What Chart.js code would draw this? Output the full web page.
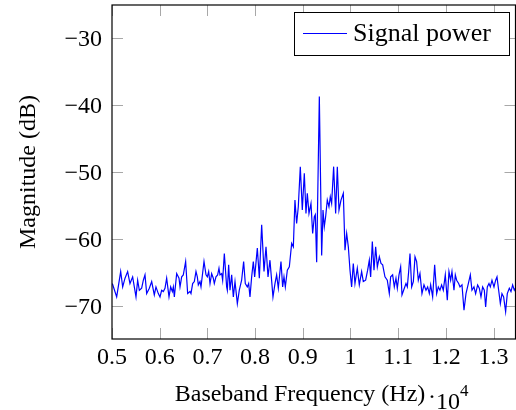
<!DOCTYPE html>
<html>
<head>
<meta charset="utf-8">
<script src="https://cdn.jsdelivr.net/npm/chart.js@4/dist/chart.umd.min.js"></script>
<style>
  html, body { margin: 0; padding: 0; background: #ffffff; }
  canvas { display: block; }
</style>
</head>
<body>
<canvas id="c" width="516" height="410"></canvas>
<script>
// Baseband frequency in units of 10^4 Hz
const freq = [
  0.5007,0.5098,0.5182,0.5224,0.5273,0.5328,0.5377,0.5433,0.5468,0.5503,
  0.5538,0.5573,0.5622,0.5657,0.5692,0.5727,0.5783,0.5832,0.5887,0.5922,
  0.5971,0.6006,0.6041,0.6076,0.6111,0.6146,0.6195,0.6230,0.6265,0.6286,
  0.6307,0.6356,0.6405,0.6426,0.6461,0.6495,0.6544,0.6586,0.6635,0.6656,
  0.6691,0.6726,0.6761,0.6789,0.6810,0.6845,0.6866,0.6929,0.6971,0.6999,
  0.7027,0.7055,0.7089,0.7124,0.7145,0.7180,0.7215,0.7243,0.7264,0.7299,
  0.7320,0.7355,0.7404,0.7418,0.7446,0.7474,0.7509,0.7544,0.7579,0.7628,
  0.7669,0.7718,0.7760,0.7795,0.7837,0.7865,0.7893,0.7928,0.7963,0.7991,
  0.8047,0.8089,0.8138,0.8187,0.8229,0.8271,0.8312,0.8375,0.8417,0.8452,
  0.8487,0.8543,0.8578,0.8606,0.8634,0.8676,0.8718,0.8767,0.8802,0.8836,
  0.8871,0.8906,0.8948,0.8990,0.9032,0.9067,0.9095,0.9130,0.9172,0.9207,
  0.9242,0.9263,0.9291,0.9347,0.9396,0.9424,0.9451,0.9479,0.9514,0.9549,
  0.9577,0.9605,0.9647,0.9689,0.9724,0.9759,0.9801,0.9850,0.9885,0.9920,
  0.9955,0.9990,1.0024,1.0059,1.0094,1.0143,1.0185,1.0234,1.0269,1.0318,
  1.0360,1.0395,1.0423,1.0458,1.0493,1.0528,1.0563,1.0605,1.0640,1.0675,
  1.0723,1.0772,1.0814,1.0842,1.0884,1.0919,1.0954,1.0982,1.1017,1.1052,
  1.1080,1.1129,1.1164,1.1192,1.1220,1.1248,1.1283,1.1318,1.1353,1.1387,
  1.1422,1.1457,1.1499,1.1541,1.1583,1.1618,1.1653,1.1681,1.1723,1.1765,
  1.1807,1.1842,1.1876,1.1911,1.1946,1.1988,1.2030,1.2065,1.2100,1.2128,
  1.2170,1.2198,1.2226,1.2268,1.2296,1.2338,1.2380,1.2422,1.2471,1.2513,
  1.2547,1.2589,1.2624,1.2666,1.2701,1.2736,1.2771,1.2806,1.2834,1.2869,
  1.2904,1.2932,1.2967,1.3009,1.3044,1.3072,1.3107,1.3142,1.3176,1.3211,
  1.3253,1.3288,1.3330,1.3365,1.3400,1.3435,1.3470
];
// Signal power in dB
const power = [
  -66.7,-68.7,-64.9,-67.2,-65.9,-64.9,-66.7,-65.7,-67.2,-68.7,
  -66.2,-67.7,-67.4,-66.2,-65.4,-68.2,-67.4,-66.4,-68.4,-67.2,
  -68.2,-68.7,-67.7,-67.9,-67.4,-65.9,-68.7,-67.2,-67.9,-67.2,
  -68.7,-65.2,-65.9,-67.2,-65.7,-65.4,-63.4,-68.2,-67.9,-68.2,
  -66.7,-66.4,-64.9,-65.7,-66.9,-66.4,-67.2,-63.4,-65.4,-65.7,
  -64.9,-66.7,-65.2,-65.9,-66.7,-65.7,-65.4,-64.4,-65.4,-65.2,
  -66.2,-62.2,-67.2,-67.7,-63.9,-67.7,-65.4,-68.7,-66.4,-69.7,
  -67.7,-66.2,-63.4,-66.7,-67.2,-66.7,-68.7,-65.7,-63.4,-65.7,
  -61.4,-65.9,-57.9,-64.9,-61.2,-65.7,-63.2,-68.7,-66.7,-65.4,
  -67.4,-63.4,-67.2,-65.7,-67.2,-64.7,-64.2,-60.7,-61.2,-54.2,
  -57.7,-55.2,-49.2,-55.7,-50.2,-56.2,-53.2,-56.2,-54.7,-59.2,
  -56.7,-56.4,-63.5,-38.7,-62.5,-55.7,-58.2,-56.7,-54.2,-55.2,
  -53.7,-54.7,-49.2,-56.2,-49.2,-55.7,-54.2,-53.2,-61.7,-59.2,
  -61.2,-64.7,-67.2,-63.7,-66.7,-64.4,-66.9,-64.9,-66.4,-66.2,
  -64.7,-63.2,-65.7,-60.4,-64.7,-61.2,-64.2,-62.7,-63.7,-63.9,
  -65.7,-66.2,-68.2,-65.7,-65.4,-67.2,-65.9,-67.4,-65.4,-64.2,
  -68.4,-67.4,-66.7,-67.2,-64.9,-62.2,-67.2,-66.4,-62.7,-63.4,
  -66.2,-65.2,-68.2,-66.9,-67.7,-67.2,-68.2,-66.9,-68.7,-63.9,
  -68.2,-67.2,-67.7,-66.9,-67.7,-65.4,-69.2,-64.9,-66.2,-64.9,
  -67.7,-65.4,-66.2,-66.7,-67.2,-66.9,-70.7,-68.2,-66.7,-65.4,
  -67.7,-67.2,-68.2,-66.9,-67.4,-68.7,-67.2,-67.7,-70.2,-67.2,
  -66.7,-67.2,-66.2,-67.2,-66.2,-65.7,-67.7,-69.7,-68.2,-68.7,
  -70.9,-68.2,-67.4,-67.9,-66.9,-67.7,-67.2
];
const xTickValues = [0.5, 0.6, 0.7, 0.8, 0.9, 1.0, 1.1, 1.2, 1.3];
const xTickLabels = ["0.5", "0.6", "0.7", "0.8", "0.9", "1", "1.1", "1.2", "1.3"];
const yTickValues = [-70, -60, -50, -40, -30];
const yTickLabels = ["\u221270", "\u221260", "\u221250", "\u221240", "\u221230"];
const seriesLabel = "Signal power";
const xTitle = "Baseband Frequency (Hz)";
const yTitle = "Magnitude (dB)";

const SERIF = "'Liberation Serif', 'DejaVu Serif', serif";

const decor = {
  id: 'decor',
  beforeDatasetsDraw(chart) {
    const ctx = chart.ctx, a = chart.chartArea;
    const xs = chart.scales.x, ys = chart.scales.y;
    const L = 11;
    ctx.save();
    ctx.strokeStyle = '#a8a8a8';
    ctx.lineWidth = 1;
    ctx.beginPath();
    xTickValues.forEach(v => {
      const px = Math.round(xs.getPixelForValue(v)) + 0.5;
      ctx.moveTo(px, a.bottom); ctx.lineTo(px, a.bottom - L);
      ctx.moveTo(px, a.top); ctx.lineTo(px, a.top + L);
    });
    yTickValues.forEach(v => {
      const py = Math.round(ys.getPixelForValue(v)) + 0.5;
      ctx.moveTo(a.left, py); ctx.lineTo(a.left + L, py);
      ctx.moveTo(a.right, py); ctx.lineTo(a.right - L, py);
    });
    ctx.stroke();
    ctx.restore();
  },
  afterDraw(chart) {
    const ctx = chart.ctx, a = chart.chartArea;
    const xs = chart.scales.x, ys = chart.scales.y;
    ctx.save();
    // axis box
    ctx.strokeStyle = '#000';
    ctx.lineWidth = 1.2;
    ctx.strokeRect(a.left, a.top, a.right - a.left, a.bottom - a.top);

    ctx.fillStyle = '#000';
    // x tick labels
    ctx.font = '24px ' + SERIF;
    ctx.textAlign = 'center';
    ctx.textBaseline = 'alphabetic';
    xTickValues.forEach((v, i) => {
      ctx.fillText(xTickLabels[i], xs.getPixelForValue(v), a.bottom + 25);
    });
    // y tick labels
    ctx.textAlign = 'right';
    yTickValues.forEach((v, i) => {
      ctx.fillText(yTickLabels[i], a.left - 10, ys.getPixelForValue(v) + 8);
    });
    // x title
    ctx.textAlign = 'center';
    ctx.fillText(xTitle, 300, 401);
    // scale factor
    ctx.textAlign = 'center';
    ctx.fillText('\u00b7', 432, 404);
    ctx.textAlign = 'left';
    ctx.fillText('10', 436, 409);
    ctx.font = '17px ' + SERIF;
    ctx.fillText('4', 460, 396);
    // y title
    ctx.font = '24px ' + SERIF;
    ctx.save();
    ctx.translate(29, (a.top + a.bottom) / 2);
    ctx.rotate(-Math.PI / 2);
    ctx.textAlign = 'center';
    ctx.textBaseline = 'middle';
    ctx.fillText(yTitle, 0, 0);
    ctx.restore();

    // legend
    const lx = 294.5, ly = 12.5, lw = 215, lh = 43;
    ctx.fillStyle = '#fff';
    ctx.fillRect(lx, ly, lw, lh);
    ctx.strokeStyle = '#000';
    ctx.lineWidth = 1;
    ctx.strokeRect(lx, ly, lw, lh);
    ctx.strokeStyle = '#0000ff';
    ctx.lineWidth = 1.2;
    ctx.beginPath();
    ctx.moveTo(303, 33.5); ctx.lineTo(347, 33.5);
    ctx.stroke();
    ctx.fillStyle = '#000';
    ctx.font = '26px ' + SERIF;
    ctx.textAlign = 'left';
    ctx.textBaseline = 'alphabetic';
    ctx.fillText(seriesLabel, 353, 41);
    ctx.restore();
  }
};

new Chart(document.getElementById('c'), {
  type: 'line',
  data: {
    datasets: [{
      label: seriesLabel,
      data: freq.map((f, i) => ({ x: f, y: power[i] })),
      borderColor: '#0000ff',
      backgroundColor: '#0000ff',
      borderWidth: 1.2,
      pointRadius: 0,
      tension: 0,
      fill: false
    }]
  },
  options: {
    responsive: false,
    devicePixelRatio: 1,
    animation: false,
    layout: { padding: { top: 5, right: 0.5, left: 0, bottom: 0 } },
    plugins: { legend: { display: false }, tooltip: { enabled: false } },
    scales: {
      x: {
        type: 'linear', min: 0.5, max: 1.346,
        grid: { display: false }, border: { display: false },
        ticks: { display: false },
        afterBuildTicks: s => { s.ticks = xTickValues.map(v => ({ value: v })); },
        afterFit: s => { s.height = 71; }
      },
      y: {
        type: 'linear', min: -75, max: -25,
        grid: { display: false }, border: { display: false },
        ticks: { display: false },
        afterBuildTicks: s => { s.ticks = yTickValues.map(v => ({ value: v })); },
        afterFit: s => { s.width = 112; }
      }
    }
  },
  plugins: [decor]
});
</script>
</body>
</html>
